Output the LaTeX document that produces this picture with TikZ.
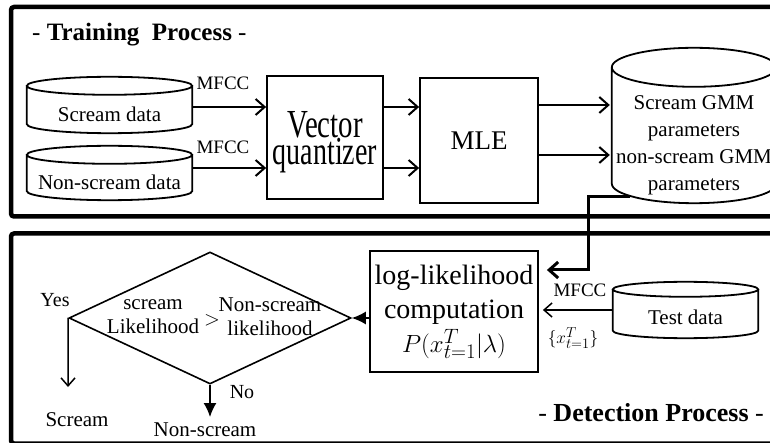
\documentclass[tikz,border=0pt]{standalone}
\usepackage{fontspec}
\setmainfont{Liberation Serif}
\usetikzlibrary{arrows.meta,shapes.geometric,calc}
\newcommand\fsz[2]{\fontsize{#1}{#2}\selectfont}
\newcommand\drawcyl[2]{%
  \draw[cylline] let \p1=(#1.north west), \p2=(#1.south east), \n1={0.5*(\x2-\x1)} in
    (\x1,\y1+#2) -- (\x1,\y2+#2)
    arc[start angle=180,end angle=360,x radius=\n1,y radius=#2]
    -- (\x2,\y1+#2)
    (\x1+\n1,\y1+#2) ellipse[x radius=\n1,y radius=#2];}
\begin{document}
\begin{tikzpicture}[x=1pt,y=-1pt,
  frame/.style={draw, line width=4.5pt, rounded corners=3pt},
  box/.style={draw, line width=1.8pt, inner sep=0pt},
  cylline/.style={line width=1.8pt},
  cylbox/.style={inner sep=0pt, font=\fsz{21}{27}, align=center},
  txt/.style={inner sep=0pt, font=\fsz{21}{24}, align=center},
  arr/.style={line width=2pt, -{Straight Barb[length=9pt,width=16pt,line width=2pt]}},
  arrbig/.style={line width=3pt, -{Straight Barb[length=9pt,width=16pt,line width=3pt]}},
  arrthin/.style={line width=1.5pt, -{Straight Barb[length=8pt,width=14pt,line width=1.5pt]}},
  arrfill/.style={line width=1.5pt, -{Latex[length=14pt,width=13pt]}}
]
\useasboundingbox (0,0) rectangle (770,443);
% frames
\draw[frame] (11,7) rectangle (800,216.5);
\draw[frame] (11,233.5) rectangle (800,443.5);
\node[anchor=west, inner sep=0pt, font=\fsz{25}{28}\bfseries] (ttrain) at (32,35) {{\mdseries -} Training\ \ Process {\mdseries -}};
\node[anchor=east, inner sep=0pt, font=\fsz{26}{28}\bfseries] (tdet) at (764,413) {{\mdseries -} Detection Process {\mdseries -}};
% training
\node[cylbox, minimum width=165pt, minimum height=38pt] (sd) at (109.5,114) {Scream data};
\drawcyl{sd}{9pt}
\node[cylbox, minimum width=165pt, minimum height=36pt] (nsd) at (109.5,182) {Non-scream data};
\drawcyl{nsd}{9pt}
\node[box, minimum width=116pt, minimum height=123pt] (vq) at (325,137.5) {};
\node[inner sep=0pt, align=center, font=\fsz{28}{27}] (vqt) at ([yshift=-4.5pt]vq.center) {\scalebox{1.03}[1.42]{Vector}\\\scalebox{1}[1.42]{quantizer}};
\node[box, minimum width=118pt, minimum height=125pt, font=\fsz{27}{30}] (mle) at (479,140.5) {MLE};
\node[cylbox, minimum width=164pt, minimum height=116pt] (gmm) at (694,145) {Scream GMM\\parameters\\non-scream GMM\\parameters};
\drawcyl{gmm}{19.5pt}
\node[txt, font=\fsz{19}{22}] (mf1) at (223,83) {MFCC};
\node[txt, font=\fsz{19}{22}] (mf2) at (223,147) {MFCC};
\draw[arr] (sd.east |- 0,107) -- (vq.west |- 0,107);
\draw[arr] (nsd.east |- 0,168) -- (vq.west |- 0,168);
\draw[arr] (vq.east |- 0,107) -- (mle.west |- 0,107);
\draw[arr] (vq.east |- 0,168) -- (mle.west |- 0,168);
\draw[arr, shorten >=2pt] (mle.east |- 0,105) -- (gmm.west |- 0,105);
\draw[arr, shorten >=2pt] (mle.east |- 0,155) -- (gmm.west |- 0,155);
% detection
\node[box, minimum width=168pt, minimum height=121pt, align=center, font=\fsz{28}{34}] (ll) at (454,311.5) {log-likelihood\\computation\\{\fsz{31}{34}$P(x^T_{t=1}|\lambda)$}};
\node[cylbox, minimum width=145pt, minimum height=41pt] (td) at (685.5,317.5) {Test data};
\drawcyl{td}{7.5pt}
\coordinate (gmmout) at (630,197);
\draw[arrbig, shorten >=8pt] (gmmout) -- (588,197) -- (588,270) -- (ll.east |- 0,270);
\draw[arrthin, shorten >=4pt] (td.west |- 0,310) -- (ll.east |- 0,310);
\node[txt, font=\fsz{19}{22}] (mf3) at (580,290) {MFCC};
\node[txt, font=\fsz{19}{22}] (xs) at (573,338) {$\{x^T_{t=1}\}$};
\node[draw, diamond, line width=1.6pt, minimum width=282pt, minimum height=132pt, inner sep=0pt] (dia) at (210,318) {};
\node[txt] (dl) at (153,317) {scream\\Likelihood};
\node[txt] (dr) at (270,317) {Non-scream\\likelihood};
\node[txt] (gt) at (212,320) {$>$};
\draw[arrfill] (ll.west |- dia.east) -- (dia.east);
\coordinate (yesend) at (68,387);
\coordinate (noend) at (210,417);
\draw[arrthin] (dia.west) -- (yesend);
\draw[arrfill] (dia.south) -- (noend);
\node[txt, font=\fsz{20}{22}] (yes) at (55,300) {Yes};
\node[txt, font=\fsz{20}{22}] (no) at (242,392) {No};
\node[txt] (scr) at (77,420) {Scream};
\node[txt] (nscr) at (205,430) {Non-scream};
\end{tikzpicture}
\end{document}
